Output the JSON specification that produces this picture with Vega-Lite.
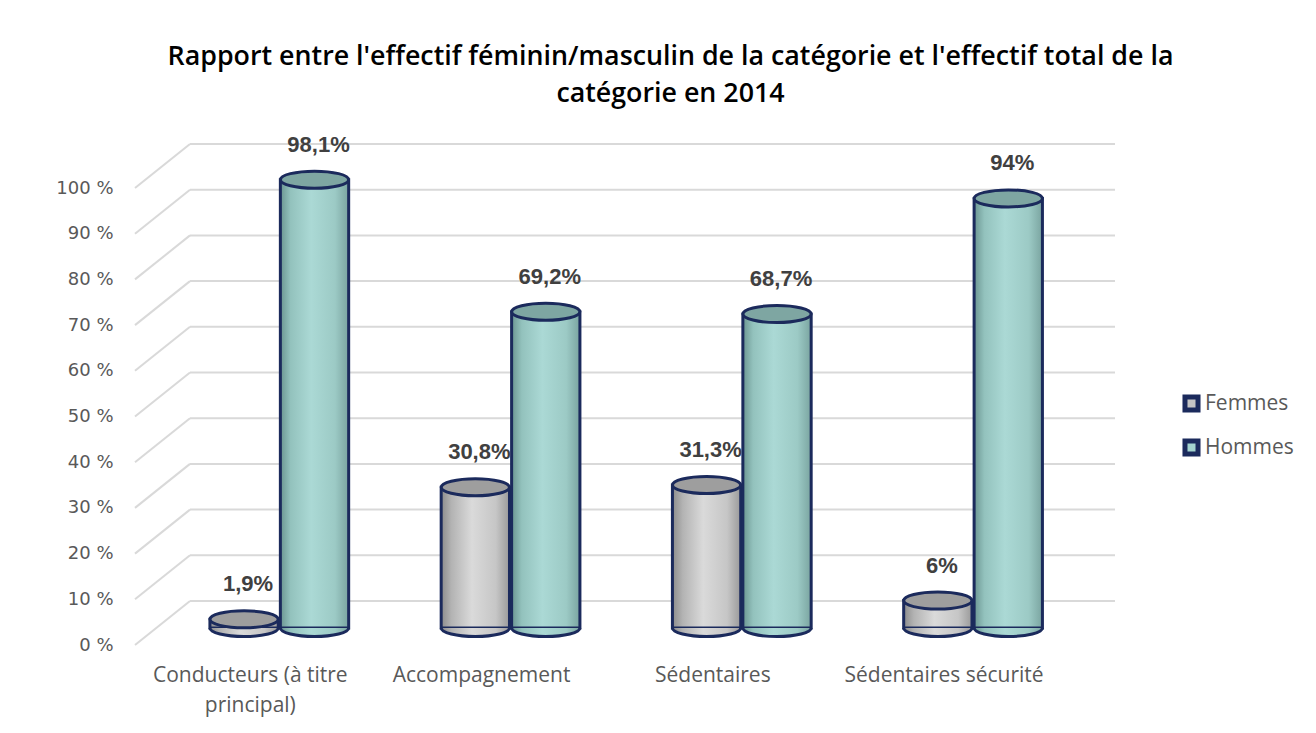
{
  "$schema": "https://vega.github.io/schema/vega-lite/v6.json",
  "width": 925,
  "height": 457,
  "autosize": "none",
  "padding": {"left": 135, "top": 188, "right": 256, "bottom": 88},
  "background": "white",
  "title": {
    "text": ["Rapport entre l'effectif féminin/masculin de la catégorie et l'effectif total de la", "catégorie en 2014"],
    "font": "Open Sans",
    "fontSize": 26.8,
    "fontWeight": 600,
    "color": "#000000",
    "lineHeight": 37,
    "anchor": "middle",
    "dx": 73,
    "offset": 26
  },
  "datasets": {
    "main": [
      {"categorie": "Conducteurs (à titre principal)", "genre": "Femmes", "valeur": 0.019},
      {"categorie": "Conducteurs (à titre principal)", "genre": "Hommes", "valeur": 0.981},
      {"categorie": "Accompagnement", "genre": "Femmes", "valeur": 0.308},
      {"categorie": "Accompagnement", "genre": "Hommes", "valeur": 0.692},
      {"categorie": "Sédentaires", "genre": "Femmes", "valeur": 0.313},
      {"categorie": "Sédentaires", "genre": "Hommes", "valeur": 0.687},
      {"categorie": "Sédentaires sécurité", "genre": "Femmes", "valeur": 0.06},
      {"categorie": "Sédentaires sécurité", "genre": "Hommes", "valeur": 0.94}
    ],
    "grid": [
      {"v": 0}, {"v": 0.1}, {"v": 0.2}, {"v": 0.3}, {"v": 0.4}, {"v": 0.5},
      {"v": 0.6}, {"v": 0.7}, {"v": 0.8}, {"v": 0.9}, {"v": 1}
    ]
  },
  "layer": [
    {
      "data": {"name": "grid"},
      "mark": {"type": "rule", "color": "#d9d9d9", "strokeWidth": 2, "xOffset": 55, "x2Offset": 55, "yOffset": -44},
      "encoding": {
        "x": {"value": 0},
        "x2": {"value": "width"},
        "y": {
          "field": "v", "type": "quantitative",
          "scale": {"domain": [0, 1], "nice": false, "zero": true},
          "axis": {
            "title": null, "domain": false, "ticks": false, "grid": false,
            "values": [0, 0.1, 0.2, 0.3, 0.4, 0.5, 0.6, 0.7, 0.8, 0.9, 1],
            "labelExpr": "round(datum.value * 100) + ' %'",
            "labelFont": "DejaVu Sans", "labelFontSize": 18, "labelColor": "#595959", "labelPadding": 22
          }
        }
      }
    },
    {
      "data": {"name": "grid"},
      "mark": {"type": "rule", "color": "#d9d9d9", "strokeWidth": 2, "y2Offset": -44},
      "encoding": {
        "x": {"value": 0},
        "x2": {"value": 55},
        "y": {"field": "v", "type": "quantitative"},
        "y2": {"field": "v"}
      }
    },
    {
      "mark": {"type": "rule", "color": "#d9d9d9", "strokeWidth": 2},
      "encoding": {"y": {"datum": 0, "type": "quantitative"}}
    },
    {
      "data": {"name": "main"},
      "transform": [{"filter": "datum.genre === 'Femmes'"}],
      "mark": {
        "type": "bar", "stroke": "#1b2a5c", "strokeWidth": 3,
        "yOffset": -17, "y2Offset": -15.5,
        "fill": {"gradient": "linear", "x1": 0, "x2": 1, "y1": 0, "y2": 0,
          "stops": [{"offset": 0, "color": "#8c8c8c"}, {"offset": 0.15, "color": "#b3b3b3"}, {"offset": 0.45, "color": "#dadada"}, {"offset": 0.8, "color": "#c6c6c6"}, {"offset": 1, "color": "#9a9a9a"}]}
      },
      "encoding": {
        "x": {"field": "categorie", "type": "nominal", "sort": null, "scale": {"paddingInner": 0.4, "paddingOuter": 0.2, "align": 0.81},
          "axis": {"title": null, "domain": false, "ticks": false, "labelAngle": 0, "labelOffset": -29, "labelLimit": 400, "labelFont": "Open Sans", "labelFontSize": 21, "labelColor": "#595959", "labelPadding": 19, "labelLineHeight": 30,
            "labelExpr": "datum.label == 'Conducteurs (à titre principal)' ? ['Conducteurs (à titre', 'principal)'] : datum.label"}},
        "xOffset": {"field": "genre", "type": "nominal", "sort": null, "scale": {"paddingInner": 0.03}},
        "y": {"field": "valeur", "type": "quantitative"}
      }
    },
    {
      "data": {"name": "main"},
      "transform": [{"filter": "datum.genre === 'Femmes'"}],
      "mark": {
        "type": "point", "filled": true, "opacity": 1, "size": 4650, "stroke": "#1b2a5c", "strokeWidth": 3,
        "shape": "M-1,0A1,0.25,0,0,0,1,0",
        "yOffset": -17,
        "fill": {"gradient": "linear", "x1": 0, "x2": 1, "y1": 0, "y2": 0,
          "stops": [{"offset": 0, "color": "#8c8c8c"}, {"offset": 0.15, "color": "#b3b3b3"}, {"offset": 0.45, "color": "#dadada"}, {"offset": 0.8, "color": "#c6c6c6"}, {"offset": 1, "color": "#9a9a9a"}]}
      },
      "encoding": {
        "x": {"field": "categorie", "type": "nominal", "sort": null},
        "xOffset": {"field": "genre", "type": "nominal", "sort": null},
        "y": {"datum": 0, "type": "quantitative"}
      }
    },
    {
      "data": {"name": "main"},
      "transform": [{"filter": "datum.genre === 'Femmes'"}],
      "mark": {
        "type": "point", "filled": true, "opacity": 1, "size": 4650, "stroke": "#1b2a5c", "strokeWidth": 3,
        "shape": "M-1,0A1,0.25,0,1,1,1,0A1,0.25,0,1,1,-1,0Z",
        "yOffset": -17, "fill": "#9e9e9e"
      },
      "encoding": {
        "x": {"field": "categorie", "type": "nominal", "sort": null},
        "xOffset": {"field": "genre", "type": "nominal", "sort": null},
        "y": {"field": "valeur", "type": "quantitative"}
      }
    },
    {
      "data": {"name": "main"},
      "transform": [{"filter": "datum.genre === 'Hommes'"}],
      "mark": {
        "type": "bar", "stroke": "#1b2a5c", "strokeWidth": 3,
        "yOffset": -17, "y2Offset": -15.5,
        "fill": {"gradient": "linear", "x1": 0, "x2": 1, "y1": 0, "y2": 0,
          "stops": [{"offset": 0, "color": "#6b9591"}, {"offset": 0.15, "color": "#93c2bd"}, {"offset": 0.45, "color": "#abd9d5"}, {"offset": 0.8, "color": "#9ccac5"}, {"offset": 1, "color": "#7aa4a0"}]}
      },
      "encoding": {
        "x": {"field": "categorie", "type": "nominal", "sort": null},
        "xOffset": {"field": "genre", "type": "nominal", "sort": null},
        "y": {"field": "valeur", "type": "quantitative"}
      }
    },
    {
      "data": {"name": "main"},
      "transform": [{"filter": "datum.genre === 'Hommes'"}],
      "mark": {
        "type": "point", "filled": true, "opacity": 1, "size": 4650, "stroke": "#1b2a5c", "strokeWidth": 3,
        "shape": "M-1,0A1,0.25,0,0,0,1,0",
        "yOffset": -17,
        "fill": {"gradient": "linear", "x1": 0, "x2": 1, "y1": 0, "y2": 0,
          "stops": [{"offset": 0, "color": "#6b9591"}, {"offset": 0.15, "color": "#93c2bd"}, {"offset": 0.45, "color": "#abd9d5"}, {"offset": 0.8, "color": "#9ccac5"}, {"offset": 1, "color": "#7aa4a0"}]}
      },
      "encoding": {
        "x": {"field": "categorie", "type": "nominal", "sort": null},
        "xOffset": {"field": "genre", "type": "nominal", "sort": null},
        "y": {"datum": 0, "type": "quantitative"}
      }
    },
    {
      "data": {"name": "main"},
      "transform": [{"filter": "datum.genre === 'Hommes'"}],
      "mark": {
        "type": "point", "filled": true, "opacity": 1, "size": 4650, "stroke": "#1b2a5c", "strokeWidth": 3,
        "shape": "M-1,0A1,0.25,0,1,1,1,0A1,0.25,0,1,1,-1,0Z",
        "yOffset": -17, "fill": "#7ea6a2"
      },
      "encoding": {
        "x": {"field": "categorie", "type": "nominal", "sort": null},
        "xOffset": {"field": "genre", "type": "nominal", "sort": null},
        "y": {"field": "valeur", "type": "quantitative"}
      }
    },
    {
      "data": {"name": "main"},
      "mark": {"type": "text", "font": "Liberation Sans", "fontSize": 22, "fontWeight": "bold", "color": "#404040", "baseline": "middle", "dx": 4, "yOffset": -52},
      "encoding": {
        "x": {"field": "categorie", "type": "nominal", "sort": null},
        "xOffset": {"field": "genre", "type": "nominal", "sort": null},
        "y": {"field": "valeur", "type": "quantitative"},
        "text": {"field": "valeur", "type": "quantitative", "format": ".1~%"}
      }
    },
    {
      "data": {"name": "main"},
      "mark": {"type": "point", "filled": true, "opacity": 0},
      "encoding": {
        "x": {"field": "categorie", "type": "nominal", "sort": null},
        "xOffset": {"field": "genre", "type": "nominal", "sort": null},
        "y": {"field": "valeur", "type": "quantitative"},
        "fill": {
          "field": "genre", "type": "nominal", "sort": null,
          "scale": {"domain": ["Femmes", "Hommes"], "range": ["#c4c4c4", "#a3d3ce"]},
          "legend": {
            "title": null, "orient": "none", "legendX": 1046, "legendY": 205,
            "symbolType": "square", "symbolSize": 170, "symbolStrokeColor": "#1b2a5c", "symbolStrokeWidth": 5, "symbolOpacity": 1,
            "labelFont": "Open Sans", "labelFontSize": 21, "labelColor": "#595959", "labelOffset": 3, "rowPadding": 9
          }
        }
      }
    }
  ],
  "config": {
    "view": {"stroke": null},
    "locale": {"number": {"decimal": ",", "thousands": "\u00a0", "grouping": [3], "currency": ["", " €"], "percent": "%"}}
  }
}
